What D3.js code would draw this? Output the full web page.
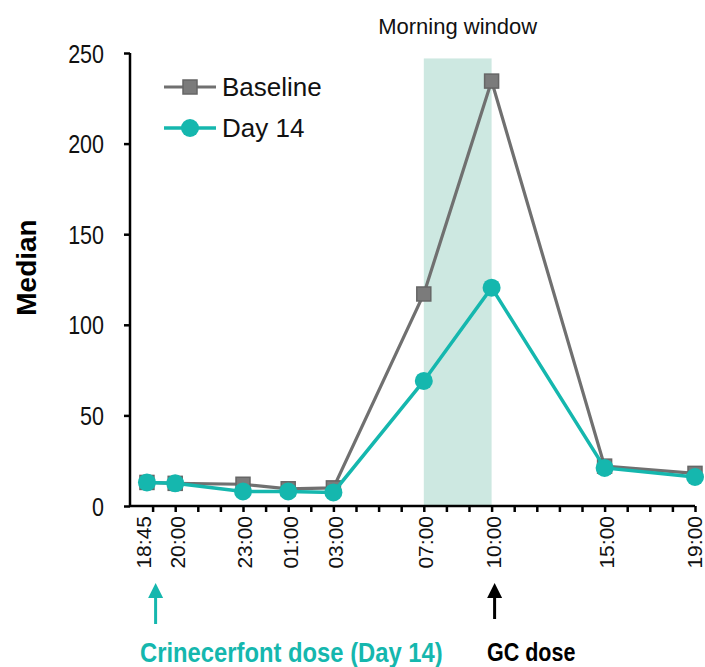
<!DOCTYPE html>
<html>
  <head>
    <title>Median over time</title>
    <script src="https://cdn.jsdelivr.net/npm/d3@7"></script>
    <style>
      html, body {
        margin:0;
        padding:0;
        background:#fff;
      }
      svg text {
        font-family: "Liberation Sans", Arial, sans-serif;
      }
    </style>
  </head>
  <body>
    <div id="chart"></div>
    <script>
      // sample times (clock time, first day then next day)
      var times = ["18:45", "20:00", "23:00", "01:00", "03:00", "07:00", "10:00", "15:00", "19:00"];
      var baseline = [13, 12.5, 12, 9.5, 10, 117, 234.5, 22, 18];
      var day14 = [13, 12.5, 8, 8, 7.5, 69, 120.5, 21, 16];
      var yTicks = [0, 50, 100, 150, 200, 250];
      var windowTop = 247;

      var teal = "#15b7ae", grey = "#707070";

      // put each "HH:MM" on a timeline that starts 18:00 on day 1
      var dates = times.map(function(t, i) {
        var p = t.split(":").map(Number);
        var day = (p[0] >= 18 && i < times.length - 1) ? 1 : 2;
        return new Date(2024, 0, day, p[0], p[1]);
      });

      var width = 705, height = 667;
      var svg = d3.select("#chart").append("svg")
        .attr("width", width)
        .attr("height", height);

      var x = d3.scaleTime()
        .domain([new Date(2024, 0, 1, 18, 0), new Date(2024, 0, 2, 19, 0)])
        .range([130, 695]);
      var y = d3.scaleLinear().domain([0, 250]).range([506, 53]);

      // morning window band
      var wx0 = x(new Date(2024, 0, 2, 7, 0)), wx1 = x(new Date(2024, 0, 2, 10, 0));
      svg.append("rect")
        .attr("x", wx0)
        .attr("y", y(windowTop))
        .attr("width", wx1 - wx0)
        .attr("height", y(0) - y(windowTop))
        .attr("fill", "#cde8e1");

      svg.append("text")
        .attr("x", (wx0 + wx1) / 2)
        .attr("y", 34)
        .attr("text-anchor", "middle")
        .style("font-size", "22px")
        .attr("fill", "#111")
        .text("Morning window");

      // y axis
      var yAxis = d3.axisLeft(y).tickValues(yTicks).tickSize(6);
      var gy = svg.append("g").attr("transform", "translate(130,0)").call(yAxis);
      gy.select(".domain").attr("stroke", "#000").attr("stroke-width", 2.5).attr("d", "M0," + y(250) + "V" + y(0));
      gy.selectAll(".tick line").attr("stroke", "#000").attr("stroke-width", 2.5);
      gy.selectAll(".tick text")
        .attr("x", 0)
        .attr("dy", "0.36em")
        .attr("transform", "translate(-26,0) scale(0.86,1)")
        .style("font-size", "25px")
        .attr("fill", "#111");

      // x axis with hourly ticks
      var hourTicks = d3.timeHour.range(new Date(2024, 0, 1, 19, 0), new Date(2024, 0, 2, 19, 1));
      var xAxis = d3.axisBottom(x).tickValues(hourTicks).tickSize(6).tickFormat("");
      var gx = svg.append("g").attr("transform", "translate(0," + y(0) + ")").call(xAxis);
      gx.select(".domain").attr("stroke", "#000").attr("stroke-width", 2.5).attr("d", "M130,0H" + x.range()[1]);
      gx.selectAll(".tick line").attr("stroke", "#000").attr("stroke-width", 2.5);

      gx.selectAll(".xlabel")
        .data(times)
        .enter().append("text")
        .attr("class", "xlabel")
        .attr("transform", function(d, i) {
          var dx = i === 0 ? -3 : (i === times.length - 1 ? 0 : 2);
          return "translate(" + (x(dates[i]) + dx) + ",10) rotate(-90)";
        })
        .attr("text-anchor", "end")
        .attr("dy", "0.35em")
        .style("font-size", "21px")
        .attr("fill", "#111")
        .text(function(d) { return d; });

      // y label
      svg.append("text")
        .attr("transform", "translate(36," + (y(125) - 12) + ") rotate(-90)")
        .attr("text-anchor", "middle")
        .style("font-size", "28px")
        .style("font-weight", "bold")
        .attr("fill", "#000")
        .text("Median");

      var line = d3.line()
        .x(function(d, i) { return x(dates[i]); })
        .y(function(d) { return y(d); });

      // baseline series
      svg.append("path")
        .datum(baseline)
        .attr("fill", "none")
        .attr("stroke", grey)
        .attr("stroke-width", 3.2)
        .attr("d", line);
      svg.selectAll(".sq")
        .data(baseline)
        .enter().append("rect")
        .attr("class", "sq")
        .attr("x", function(d, i) { return x(dates[i]) - 7; })
        .attr("y", function(d) { return y(d) - 7; })
        .attr("width", 14)
        .attr("height", 14)
        .attr("fill", "#7b7b7b")
        .attr("stroke", "#666")
        .attr("stroke-width", 1.5);

      // day 14 series
      svg.append("path")
        .datum(day14)
        .attr("fill", "none")
        .attr("stroke", teal)
        .attr("stroke-width", 3.5)
        .attr("d", line);
      svg.selectAll(".dot")
        .data(day14)
        .enter().append("circle")
        .attr("class", "dot")
        .attr("cx", function(d, i) { return x(dates[i]); })
        .attr("cy", function(d) { return y(d); })
        .attr("r", 9)
        .attr("fill", teal);

      // legend
      var legend = svg.append("g").attr("transform", "translate(164,87)");
      legend.append("line").attr("x1", 0).attr("x2", 52).attr("stroke", grey).attr("stroke-width", 3.2);
      legend.append("rect").attr("x", 19).attr("y", -7).attr("width", 14).attr("height", 14)
        .attr("fill", "#7b7b7b").attr("stroke", "#666").attr("stroke-width", 1.5);
      legend.append("text").attr("x", 58).attr("y", 9).style("font-size", "26px").attr("fill", "#111").text("Baseline");
      var legend2 = svg.append("g").attr("transform", "translate(164,128)");
      legend2.append("line").attr("x1", 0).attr("x2", 52).attr("stroke", teal).attr("stroke-width", 3.5);
      legend2.append("circle").attr("cx", 26).attr("r", 9).attr("fill", teal);
      legend2.append("text").attr("x", 58).attr("y", 9).style("font-size", "26px").attr("fill", "#111").text("Day 14");

      // dose arrows
      function arrow(t, color, bottom) {
        var ax = x(t) + 3;
        svg.append("line").attr("x1", ax).attr("x2", ax).attr("y1", bottom).attr("y2", 596)
          .attr("stroke", color).attr("stroke-width", 3);
        svg.append("path")
          .attr("d", "M" + (ax - 7.5) + ",598L" + (ax + 7.5) + ",598L" + ax + ",583Z")
          .attr("fill", color);
      }
      arrow(new Date(2024, 0, 1, 19, 0), teal, 624);
      arrow(new Date(2024, 0, 2, 10, 0), "#000", 619);

      svg.append("text")
        .attr("transform", "translate(140,662) scale(0.85,1)")
        .style("font-size", "28px").style("font-weight", "bold")
        .attr("fill", teal)
        .text("Crinecerfont dose (Day 14)");
      svg.append("text")
        .attr("transform", "translate(487,661) scale(0.86,1)")
        .style("font-size", "25px").style("font-weight", "bold")
        .attr("fill", "#000")
        .text("GC dose");
    </script>
  </body>
</html>
